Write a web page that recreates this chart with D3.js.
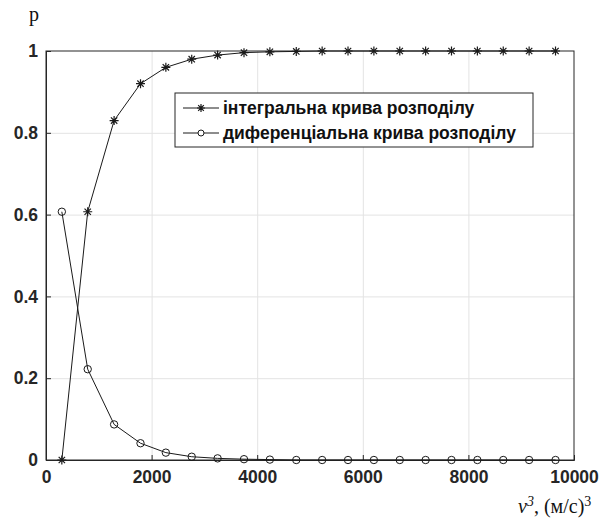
<!DOCTYPE html>
<html>
<head>
<meta charset="utf-8">
<script src="https://cdn.jsdelivr.net/npm/d3@7"></script>
<style>
  body { margin: 0; background: #fff; }
</style>
</head>
<body>
<div id="chart"></div>
<script>
// Інтегральна та диференціальна криві розподілу по v^3
const xValues = [300, 790, 1290, 1790, 2270, 2760, 3250, 3750, 4240, 4740, 5230, 5720, 6210, 6700, 7190, 7680, 8170, 8660, 9150, 9650]
const integral = [0, 0.607, 0.83, 0.92, 0.96, 0.98, 0.99, 0.996, 0.998, 0.999, 1, 1, 1, 1, 1, 1, 1, 1, 1, 1]
const differential = [0.607, 0.222, 0.087, 0.041, 0.018, 0.008, 0.004, 0.002, 0.001, 0, 0, 0, 0, 0, 0, 0, 0, 0, 0, 0]
const xTicks = [0, 2000, 4000, 6000, 8000, 10000]
const yTicks = [0, 0.2, 0.4, 0.6, 0.8, 1]
const legendLabels = ["інтегральна крива розподілу", "диференціальна крива розподілу"]

const W = 612, H = 519
const margin = { top: 51, right: 38, bottom: 59, left: 46 }
const innerW = W - margin.left - margin.right
const innerH = H - margin.top - margin.bottom

const svg = d3.select("#chart").append("svg")
  .attr("width", W).attr("height", H)
  .style("background", "#fff")

const g = svg.append("g").attr("transform", `translate(${margin.left},${margin.top})`)

const x = d3.scaleLinear().domain([0, 10000]).range([0, innerW])
const y = d3.scaleLinear().domain([0, 1]).range([innerH, 0])

const tickColor = "#262626"
const tickFont = "'Liberation Sans', Arial, sans-serif"
const serif = "'Liberation Serif', 'Times New Roman', serif"

// grille
g.append("g")
  .call(d3.axisBottom(x).tickValues(xTicks.slice(1, -1)).tickSize(innerH).tickFormat(""))
  .attr("color", "#e3e3e3")
  .call((s) => s.select(".domain").remove())
g.append("g")
  .call(d3.axisLeft(y).tickValues(yTicks.slice(1, -1)).tickSize(-innerW).tickFormat(""))
  .attr("color", "#e3e3e3")
  .call((s) => s.select(".domain").remove())

// axes (ticks vers l'intérieur)
g.append("g")
  .attr("transform", `translate(0,${innerH})`)
  .call(d3.axisBottom(x).tickValues(xTicks).tickSize(-5).tickPadding(11).tickFormat(d3.format("d")))
  .attr("color", tickColor)
  .call((s) => s.selectAll("text").attr("font-size", 17.5).attr("font-weight", "bold").attr("font-family", tickFont).attr("fill", tickColor))
g.append("g")
  .call(d3.axisLeft(y).tickValues(yTicks).tickSize(-5).tickPadding(8).tickFormat((d) => d === 0 || d === 1 ? d3.format("d")(d) : d3.format(".1f")(d)))
  .attr("color", tickColor)
  .call((s) => s.selectAll("text").attr("font-size", 17.5).attr("font-weight", "bold").attr("font-family", tickFont).attr("fill", tickColor))

// boîte
g.append("rect")
  .attr("width", innerW).attr("height", innerH)
  .attr("fill", "none").attr("stroke", tickColor).attr("stroke-width", 1)

const line = d3.line().x((d) => x(d[0])).y((d) => y(d[1]))

const starPath = (r) => {
  let p = ""
  for (let k = 0; k < 4; k++) {
    const a = k * Math.PI / 4
    p += `M${-r * Math.cos(a)},${-r * Math.sin(a)}L${r * Math.cos(a)},${r * Math.sin(a)}`
  }
  return p
}

const series = [
  { vals: integral, marker: "star" },
  { vals: differential, marker: "circle" },
]

series.forEach((s) => {
  const pts = xValues.map((xv, i) => [xv, s.vals[i]])
  g.append("path")
    .datum(pts)
    .attr("d", line)
    .attr("fill", "none").attr("stroke", "#1a1a1a").attr("stroke-width", 1)
  const m = g.selectAll(null).data(pts).join("g")
    .attr("transform", (d) => `translate(${x(d[0])},${y(d[1])})`)
  if (s.marker === "star") {
    m.append("path").attr("d", starPath(4.5)).attr("stroke", "#1a1a1a").attr("stroke-width", 1.2)
  } else {
    m.append("circle").attr("r", 3.7).attr("fill", "none").attr("stroke", "#1a1a1a").attr("stroke-width", 1)
  }
})

// légende
const leg = svg.append("g").attr("transform", "translate(175,93)")
leg.append("rect")
  .attr("width", 358).attr("height", 54)
  .attr("fill", "#fff").attr("stroke", tickColor).attr("stroke-width", 1)
legendLabels.forEach((lab, i) => {
  const ly = 15 + i * 25
  const row = leg.append("g").attr("transform", `translate(0,${ly})`)
  row.append("line").attr("x1", 8).attr("x2", 44).attr("stroke", "#1a1a1a").attr("stroke-width", 1)
  if (i === 0) {
    row.append("path").attr("transform", "translate(26,0)").attr("d", starPath(4)).attr("stroke", "#1a1a1a").attr("stroke-width", 1.2)
  } else {
    row.append("circle").attr("cx", 26).attr("r", 3).attr("fill", "#fff").attr("stroke", "#1a1a1a")
  }
  row.append("text")
    .attr("x", 48).attr("dy", "0.35em")
    .attr("font-size", 17.5).attr("font-weight", "bold").attr("font-family", tickFont)
    .attr("fill", "#111")
    .text(lab)
})

// libellés d'axes
svg.append("text")
  .attr("x", 29).attr("y", 21)
  .attr("font-family", serif).attr("font-size", 20)
  .attr("fill", "#111")
  .text("p")

const xl = svg.append("text")
  .attr("x", 518).attr("y", 513)
  .attr("font-family", serif).attr("font-size", 20)
  .attr("fill", "#111")
xl.append("tspan").attr("font-style", "italic").text("v")
xl.append("tspan").attr("dy", -7).attr("font-size", 14).attr("font-style", "italic").text("3")
xl.append("tspan").attr("dy", 7).text(", (м/с)")
xl.append("tspan").attr("dy", -7).attr("font-size", 14).text("3")
</script>
</body>
</html>
